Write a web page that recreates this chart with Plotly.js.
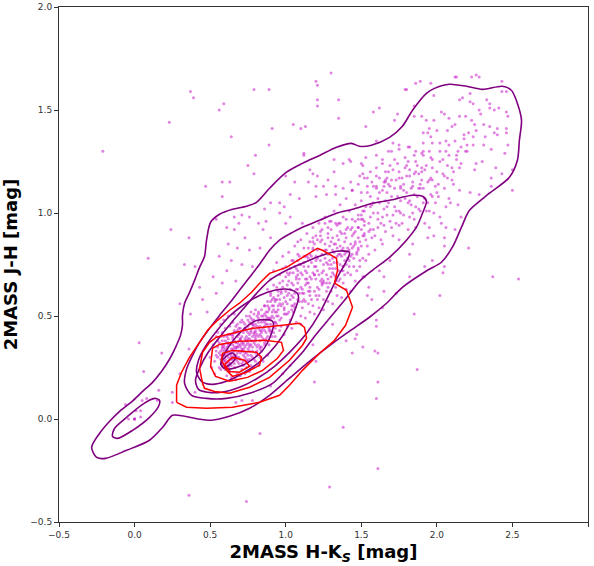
<!DOCTYPE html>
<html><head><meta charset="utf-8">
<script src="https://cdn.plot.ly/plotly-3.0.1.min.js"></script>
<style>html,body{margin:0;padding:0;background:#fff}#c{width:594px;height:566px}</style>
</head><body><div id="c"></div>
<script>
// ---------- scatter stars (H-Ks, J-H) ----------
const hkCore=[0.55,0.57,0.58,0.60,0.61,0.62,0.63,0.64,0.65,0.66,0.67,0.68,0.69,0.70,0.71,0.72,0.73,0.74,0.75,0.76,0.77,0.78,0.79,0.80,0.81,0.82,0.83,0.84,0.85,0.86,0.56,0.59,0.60,0.62,0.63,0.64,0.66,0.67,0.68,0.70,0.71,0.73,0.74,0.76,0.77,0.79,0.80,0.82,0.83,0.85,0.54,0.57,0.58,0.61,0.62,0.64,0.65,0.67,0.68,0.69,0.70,0.72,0.73,0.74,0.75,0.77,0.78,0.79,0.81,0.84,0.53,0.55,0.58,0.60,0.61,0.63,0.65,0.66,0.68,0.69,0.71,0.72,0.74,0.75,0.76,0.78,0.80,0.81,0.83,0.86,0.57,0.59,0.62,0.64,0.66,0.67,0.69,0.70,0.72,0.73,0.75,0.76,0.78,0.79,0.80,0.82,0.84,0.87,0.88,0.89,0.56,0.58,0.60,0.63,0.65,0.68,0.71,0.74,0.77,0.80,0.61,0.64,0.67,0.70,0.73,0.76,0.79,0.82,0.85,0.88,0.50,0.52,0.54,0.51,0.53,0.55,0.57,0.59,0.62,0.66];
const jhCore=[0.30,0.33,0.27,0.31,0.35,0.28,0.32,0.26,0.36,0.30,0.34,0.28,0.38,0.32,0.27,0.36,0.30,0.40,0.34,0.29,0.38,0.33,0.42,0.36,0.31,0.40,0.45,0.35,0.39,0.43,0.25,0.36,0.24,0.39,0.23,0.41,0.25,0.42,0.22,0.44,0.24,0.46,0.25,0.47,0.26,0.48,0.28,0.49,0.30,0.50,0.33,0.29,0.38,0.27,0.33,0.37,0.29,0.31,0.40,0.33,0.29,0.31,0.35,0.43,0.37,0.31,0.44,0.37,0.41,0.47,0.28,0.35,0.31,0.28,0.40,0.36,0.33,0.38,0.35,0.30,0.37,0.42,0.32,0.45,0.41,0.35,0.46,0.33,0.38,0.37,0.24,0.33,0.30,0.34,0.27,0.37,0.41,0.35,0.28,0.39,0.31,0.36,0.40,0.29,0.43,0.36,0.42,0.46,0.40,0.49,0.37,0.42,0.44,0.45,0.47,0.46,0.48,0.50,0.52,0.53,0.21,0.20,0.19,0.21,0.22,0.23,0.25,0.26,0.28,0.31,0.30,0.36,0.40,0.25,0.22,0.42,0.46,0.48,0.50,0.51];
const hkCore2=[0.56,0.58,0.59,0.61,0.62,0.64,0.65,0.66,0.68,0.69,0.70,0.71,0.72,0.74,0.75,0.76,0.78,0.79,0.80,0.82,0.83,0.84,0.86,0.87,0.88,0.90,0.91,0.92,0.55,0.57,0.60,0.63,0.66,0.69,0.72,0.75,0.78,0.81,0.84,0.87,0.90,0.93,0.59,0.62,0.65,0.68,0.71,0.74,0.77,0.80,0.83,0.86,0.89,0.92,0.95,0.57,0.61,0.64,0.67,0.70,0.73,0.76,0.79,0.82,0.85,0.88,0.91,0.94,0.60,0.63,0.66,0.69,0.72,0.75,0.78,0.81,0.84,0.87,0.90,0.93,0.58,0.62,0.65,0.68,0.71,0.74,0.77,0.80,0.83,0.86,0.89,0.92,0.96,0.54,0.58,0.63,0.67,0.70,0.73,0.77];
const jhCore2=[0.32,0.29,0.35,0.32,0.37,0.30,0.39,0.33,0.37,0.42,0.36,0.40,0.33,0.38,0.42,0.35,0.46,0.41,0.38,0.44,0.41,0.50,0.47,0.42,0.52,0.46,0.55,0.49,0.38,0.40,0.26,0.29,0.31,0.27,0.34,0.28,0.30,0.35,0.33,0.38,0.43,0.47,0.28,0.25,0.34,0.30,0.33,0.36,0.43,0.40,0.35,0.45,0.36,0.53,0.50,0.31,0.33,0.31,0.35,0.39,0.44,0.39,0.45,0.47,0.44,0.49,0.40,0.52,0.34,0.41,0.42,0.44,0.47,0.48,0.38,0.50,0.53,0.39,0.57,0.44,0.35,0.36,0.40,0.32,0.34,0.38,0.36,0.32,0.43,0.51,0.54,0.59,0.56,0.31,0.36,0.27,0.29,0.38,0.32,0.42];
const hkCore3=[0.58,0.60,0.62,0.64,0.66,0.68,0.70,0.72,0.74,0.76,0.78,0.80,0.82,0.84,0.86,0.88,0.90,0.92,0.94,0.96,0.59,0.63,0.67,0.71,0.75,0.79,0.83,0.87,0.91,0.95,0.61,0.65,0.69,0.73,0.77,0.81,0.85,0.89,0.93,0.97,0.60,0.64,0.68,0.72,0.76,0.80,0.84,0.88,0.92,0.99,0.62,0.66,0.70,0.74,0.78,0.82,0.86,0.90,0.94,0.98];
const jhCore3=[0.34,0.38,0.41,0.29,0.43,0.35,0.47,0.26,0.29,0.50,0.46,0.39,0.52,0.43,0.36,0.55,0.49,0.45,0.58,0.48,0.40,0.27,0.45,0.33,0.39,0.51,0.34,0.50,0.52,0.55,0.37,0.41,0.36,0.44,0.49,0.45,0.48,0.43,0.57,0.61,0.29,0.32,0.43,0.37,0.33,0.42,0.40,0.46,0.42,0.53,0.26,0.35,0.39,0.28,0.48,0.51,0.55,0.60,0.46,0.64];
const hkMid=[0.87,0.88,0.89,0.90,0.91,0.92,0.93,0.94,0.95,0.96,0.97,0.98,0.99,1.00,1.01,1.02,1.03,1.04,1.05,1.06,1.07,1.08,1.09,1.10,1.11,1.12,1.13,1.14,1.15,1.16,1.17,1.18,1.19,1.20,1.21,1.22,1.23,1.24,1.25,1.26,1.27,1.28,1.29,1.30,1.31,1.32,1.33,1.34,1.35,1.36,1.37,1.38,1.39,1.40,1.41,1.42,1.43,1.44,1.45,1.46,0.88,0.90,0.92,0.94,0.96,0.98,1.00,1.02,1.04,1.06,1.08,1.10,1.12,1.14,1.16,1.18,1.20,1.22,1.24,1.26,0.90,0.93,0.96,0.99,1.01,1.04,1.07,1.10,1.13,1.16,1.19,1.22,1.25,1.28,1.31,1.34,1.37,1.40,1.43,1.46,0.86,0.89,0.91,0.93,0.95,0.97,0.99,1.01,1.03,1.05,1.07,1.09,1.11,1.13,1.15,1.17,1.19,1.21,1.23,1.25,1.27,1.29,1.31,1.33,1.35,1.37,1.39,1.41,1.43,1.45,0.87,0.92,0.97,1.02,1.05,1.08,1.12,1.15,1.18,1.21,1.24,1.27,1.30,1.33,1.36,1.39,1.42,1.44,1.47,1.48];
const jhMid=[0.52,0.57,0.44,0.61,0.50,0.55,0.47,0.64,0.53,0.58,0.45,0.67,0.51,0.62,0.56,0.70,0.48,0.60,0.65,0.54,0.73,0.58,0.68,0.50,0.63,0.76,0.57,0.71,0.66,0.60,0.79,0.55,0.74,0.68,0.82,0.63,0.77,0.71,0.58,0.85,0.66,0.80,0.73,0.62,0.88,0.76,0.69,0.83,0.72,0.91,0.79,0.66,0.86,0.75,0.93,0.82,0.70,0.89,0.78,0.96,0.63,0.68,0.72,0.76,0.70,0.79,0.74,0.81,0.77,0.84,0.80,0.87,0.83,0.90,0.86,0.93,0.89,0.95,0.92,0.98,0.42,0.40,0.43,0.41,0.45,0.44,0.47,0.46,0.49,0.52,0.51,0.54,0.53,0.57,0.56,0.60,0.59,0.63,0.62,0.67,0.55,0.53,0.58,0.52,0.62,0.55,0.59,0.65,0.58,0.71,0.63,0.57,0.70,0.65,0.74,0.68,0.62,0.72,0.67,0.75,0.70,0.84,0.78,0.73,0.87,0.82,0.77,0.71,0.85,0.74,0.48,0.65,0.62,0.52,0.59,0.66,0.61,0.56,0.71,0.64,0.80,0.76,0.69,0.64,0.75,0.70,0.77,0.83,0.72,0.88];
const hkMid2=[0.94,0.96,0.98,1.00,1.02,1.04,1.06,1.08,1.10,1.12,1.14,1.16,1.18,1.20,1.22,1.24,1.26,1.28,1.30,1.32,1.34,1.36,1.38,1.40,1.42,1.44,1.46,1.48,1.50,1.52,0.95,0.99,1.03,1.07,1.11,1.15,1.19,1.23,1.27,1.31,1.35,1.39,1.43,1.47,1.51,0.97,1.01,1.05,1.09,1.13,1.17,1.21,1.25,1.29,1.33,1.37,1.41,1.45,1.49,1.00,1.04,1.08,1.12,1.16,1.20,1.24,1.28,1.32,1.36,1.40,1.44,1.48,0.93,0.98,1.03,1.08,1.13,1.18,1.23,1.28,1.33,1.38,1.43,1.01,1.06,1.11,1.16,1.21,1.26,1.31,1.36,1.41,1.46,1.51,1.09,1.14,1.19,1.24,1.29,1.34];
const jhMid2=[0.50,0.66,0.56,0.69,0.61,0.55,0.74,0.63,0.71,0.58,0.79,0.64,0.83,0.74,0.60,0.87,0.78,0.68,0.92,0.81,0.76,0.95,0.83,0.88,0.74,0.97,0.86,0.99,0.84,0.94,0.60,0.54,0.63,0.69,0.57,0.78,0.70,0.86,0.62,0.73,0.80,0.90,0.79,0.80,0.89,0.49,0.71,0.52,0.75,0.68,0.76,0.87,0.67,0.66,0.95,0.72,0.83,0.90,0.77,0.57,0.66,0.70,0.74,0.62,0.77,0.65,0.88,0.85,0.80,0.92,0.80,0.82,0.58,0.73,0.71,0.77,0.79,0.82,0.91,0.75,0.67,0.74,0.92,0.51,0.56,0.54,0.80,0.58,0.95,0.82,0.68,0.78,0.91,0.97,0.61,0.68,0.85,0.66,0.96,0.89];
const hkMid3=[1.01,1.03,1.05,1.07,1.09,1.11,1.13,1.15,1.17,1.19,1.21,1.23,1.25,1.27,1.29,1.31,1.33,1.35,1.37,1.39,1.02,1.06,1.10,1.14,1.18,1.22,1.26,1.30,1.34,1.38,1.00,1.04,1.08,1.12,1.16,1.20,1.24,1.28,1.32,1.36,1.40,1.44,1.48,1.52,1.56,1.05,1.15,1.25,1.35,1.45,1.10,1.20,1.30,1.40,1.50,1.08,1.18,1.28,1.38,1.48];
const jhMid3=[0.60,0.73,0.55,0.68,0.79,0.61,0.72,0.83,0.58,0.70,0.78,0.89,0.66,0.82,0.77,0.71,0.85,0.67,0.90,0.80,0.67,0.61,0.75,0.66,0.86,0.70,0.82,0.86,0.79,0.72,0.51,0.53,0.72,0.79,0.69,0.79,0.68,0.93,0.70,0.84,0.81,0.93,0.93,0.89,0.92,0.77,0.62,0.72,0.95,0.84,0.64,0.60,0.75,0.97,0.97,0.86,0.88,0.64,0.74,0.83];
const hkPlume=[1.47,1.48,1.49,1.50,1.51,1.52,1.53,1.54,1.55,1.56,1.57,1.58,1.59,1.60,1.61,1.62,1.63,1.64,1.65,1.66,1.67,1.68,1.69,1.70,1.71,1.72,1.73,1.74,1.75,1.76,1.77,1.78,1.79,1.80,1.81,1.82,1.83,1.84,1.85,1.86,1.87,1.88,1.89,1.90,1.91,1.92,1.93,1.94,1.96,1.98,1.46,1.49,1.52,1.55,1.58,1.61,1.64,1.67,1.70,1.73,1.76,1.79,1.82,1.85,1.88,1.50,1.53,1.56,1.59,1.62,1.65,1.68,1.71,1.74,1.77,1.80,1.83,1.86,1.89,1.92,1.28,1.30,1.32,1.34,1.36,1.38,1.40,1.42,1.44,1.46,1.48,1.50,1.52,1.54,1.56,1.58,1.60,1.62,1.64,1.66,2.00,2.02,2.05,2.08,2.10,2.12,2.14,2.18,2.20,2.23,2.26,2.29,2.31,2.33,2.38,2.10,2.05,2.00,1.98,2.15];
const jhPlume=[0.81,0.93,0.86,0.99,0.78,0.90,1.03,0.84,0.95,1.08,0.88,1.00,0.82,1.12,0.93,1.05,0.87,0.98,1.15,0.91,1.03,1.20,0.96,1.08,0.89,1.12,1.01,1.24,0.94,1.06,1.17,0.99,1.27,1.10,0.92,1.21,1.04,1.15,0.97,1.25,1.08,1.19,1.01,1.29,1.12,0.95,1.23,1.05,1.17,1.00,0.85,0.74,0.96,0.80,0.92,1.00,0.85,1.10,0.93,1.16,1.00,1.07,0.98,1.09,1.02,0.92,0.87,0.98,0.89,1.10,0.94,1.05,0.99,1.08,0.95,1.18,1.12,1.03,1.14,1.07,0.90,0.96,1.01,0.94,1.04,0.98,1.07,1.01,1.11,1.04,1.14,1.06,1.17,1.10,1.20,1.13,1.22,1.17,1.26,1.20,1.20,1.25,1.18,1.28,1.22,1.35,1.30,1.38,1.33,1.45,1.40,1.48,1.43,1.55,1.50,1.42,1.48,1.40,1.45,1.55];
const hkPlume2=[1.52,1.55,1.58,1.61,1.64,1.67,1.70,1.73,1.76,1.79,1.82,1.85,1.88,1.91,1.94,1.97,2.00,1.54,1.57,1.60,1.63,1.66,1.69,1.72,1.75,1.78,1.81,1.84,1.87,1.90,1.93,1.96,1.99,1.48,1.51,1.56,1.61,1.66,1.71,1.76,1.81,1.86,1.91,1.96,2.01,2.04,2.07,2.10,1.60,1.70,1.80,1.90,1.65,1.75,1.85,1.95,2.06,2.13,2.18,2.24];
const jhPlume2=[1.01,0.91,1.05,0.97,1.11,0.99,1.16,0.95,1.12,1.22,1.06,1.19,1.12,1.05,1.15,1.22,1.10,1.13,1.04,1.18,0.95,1.06,1.13,1.03,1.20,1.14,1.05,1.00,1.23,1.16,1.01,1.09,1.05,0.97,1.01,1.03,1.07,1.16,1.21,1.13,1.25,1.20,1.34,1.27,1.14,1.19,1.23,1.16,1.28,1.30,1.23,1.20,1.02,1.01,1.28,1.41,1.30,1.28,1.36,1.37];
const hkHalo=[1.12,1.00,1.06,1.15,1.16,1.21,1.20,1.25,1.32,1.38,1.43,1.50,1.51,1.50,1.44,1.38,1.33,1.27,1.20,1.09,1.03,0.96,0.90,0.99,0.96,0.87,1.03,1.00,1.11,0.82,0.76,0.69,0.66,0.73,0.85,0.90,0.62,0.68,0.76,0.83,0.56,0.64,0.61,0.71,0.78,0.52,0.58,0.67,0.54,0.40,0.43,0.45,0.48,1.62,1.69,1.51,1.55,1.64,1.60,1.73,1.82,1.82,1.75,1.53,1.47,1.40,1.84,1.86,1.97,2.05,1.92];
const jhHalo=[1.29,1.18,1.15,1.15,1.21,1.18,1.13,1.13,1.20,1.24,1.25,1.24,1.19,1.10,1.11,1.12,1.09,1.09,1.08,1.07,1.09,1.05,1.05,1.03,1.00,0.96,0.98,0.95,0.95,0.95,0.98,0.95,0.92,0.88,0.92,0.88,0.85,0.83,0.82,0.83,0.79,0.77,0.72,0.75,0.74,0.69,0.66,0.67,0.61,0.74,0.64,0.58,0.52,0.72,0.77,0.69,0.64,0.54,0.48,0.61,0.69,0.80,0.87,0.77,0.41,0.38,0.85,0.93,0.77,0.74,0.74];
const hkOut=[-0.21,0.23,0.37,0.39,0.56,0.59,0.64,0.79,0.89,0.91,1.05,0.89,0.80,0.75,0.79,0.47,0.58,0.63,0.58,0.24,0.36,0.09,0.33,0.54,0.66,0.71,0.86,0.61,0.03,0.18,0.06,0.16,0.25,-0.06,0.05,0.08,0.15,0.01,0.04,0,0,0,-0.04,0.04,0.36,0.30,0.40,0.25,0.36,0.74,0.83,0.30,0.37,2.37,2.54,2.04,2.02,1.85,1.87,1.61,1.60,1.38,1.61,1.29,1.19,1.44,1.51,1.59,1.61,1.46,1.60,1.54,1.57,1.65,1.52,1.65,1.31,1.18,1.20,0.67,0.71,0.78,0.90,0.98,1.03];
const jhOut=[1.30,1.44,1.59,1.56,1.50,1.53,1.37,1.60,1.60,1.41,1.43,1.33,1.28,1.23,1.19,1.13,1.15,1.15,1.08,0.92,0.88,0.78,0.75,0.97,0.98,0.99,1.02,0.93,0.37,0.32,0.23,0.14,0.13,0.07,0.09,0.10,0.09,0.04,0.04,0,0,0,0.00,0.01,0.34,0.22,0.13,0.08,-0.37,-0.40,-0.07,0.56,0.51,0.69,0.68,0.71,0.60,0.51,0.24,0.18,0.10,-0.04,-0.24,-0.33,0.18,0.32,0.35,0.33,0.32,0.39,0.45,0.60,0.58,0.62,0.69,0.69,0.46,0.36,0.28,0.08,0.09,0.09,0.16,0.22,0.26];
const hkUpper=[2.12,2.13,2.23,2.26,2.28,2.43,1.86,1.89,1.96,1.80,2.43,2.46,2.22,1.98,2.17,2.22,2.24,2.35,2.35,2.28,2.41,2.46,2.47,2.03,1.90,1.85,1.74,1.85,1.93,2.08,2.15,2.19,2.25,2.12,2.07,2.35,2.40,2.46,2.38,2.46,2.40,1.91,1.94,1.96,2.21,2.32,2.06,2.02,1.97,1.75,1.81,1.82,1.86,1.91,1.95,2.02,2.08,2.16,2.19,2.20,2.24,2.31,2.36,2.47,2.45,2.39,2.36,2.43,2.50,2.50,2.30,2.26,2.25,2.15,2.16,2.13,2.11,2.07,2.04,1.97,1.91,1.90,1.92,1.72,1.64,1.67,1.75,1.82,1.95,1.97,1.99,2.05,2.11,2.15,2.22,2.28,2.36,1.84,1.89,1.78,1.65,1.68,1.97,2.01,2.08,2.09,2.06,2.14,1.95,2.02,2.03,2.06,2.16,1.95,1.94,1.98,2.05,2.12,2.21,2.05,1.30,1.20,1.21,1.21,1.21,1.35,1.35,1.62,1.58,1.53,1.72,1.79,1.10,1.13,1.12,1.32,1.42,1.53,1.71,1.75,1.68,1.60,1.18,1.28,1.33,1.43,1.49,1.51,1.54,1.57,1.60,1.66,1.69];
const jhUpper=[1.66,1.66,1.66,1.67,1.66,1.64,1.63,1.64,1.63,1.60,1.59,1.59,1.58,1.57,1.56,1.54,1.53,1.53,1.51,1.50,1.51,1.49,1.47,1.49,1.47,1.47,1.48,1.52,1.45,1.46,1.47,1.47,1.43,1.43,1.40,1.42,1.41,1.41,1.39,1.39,1.38,1.39,1.39,1.37,1.39,1.37,1.35,1.34,1.34,1.33,1.32,1.32,1.30,1.30,1.30,1.30,1.33,1.32,1.30,1.30,1.33,1.33,1.31,1.33,1.29,1.22,1.17,1.19,1.21,1.11,1.25,1.24,1.21,1.22,1.24,1.26,1.20,1.17,1.26,1.26,1.28,1.22,1.21,1.26,1.24,1.17,1.17,1.18,1.16,1.16,1.13,1.12,1.14,1.11,1.10,1.09,1.13,1.13,1.12,1.11,1.13,1.14,1.08,1.08,1.07,1.05,1.03,1.04,1.01,0.98,0.95,0.93,0.98,0.93,0.88,0.89,0.88,0.92,0.83,0.84,1.68,1.64,1.62,1.55,1.52,1.55,1.46,1.51,1.49,1.42,1.45,1.60,1.41,1.42,1.28,1.26,1.26,1.27,1.34,1.31,1.30,1.35,1.19,1.16,1.13,1.15,1.18,1.23,1.17,1.15,1.13,1.15,1.23];

// ---------- purple KDE contours (vertices) ----------
const p1x=[-0.284,-0.251,-0.192,-0.053,0.099,0.185,0.251,0.331,0.430,0.509,0.628,0.761,0.893,1.025,1.157,1.310,1.422,1.554,1.667,1.772,1.938,2.030,2.103,2.163,2.216,2.348,2.480,2.533,2.546,2.560,2.533,2.493,2.434,2.302,2.196,2.083,1.984,1.931,1.839,1.772,1.687,1.567,1.488,1.435,1.336,1.224,1.111,1.005,0.893,0.807,0.741,0.648,0.562,0.503,0.476,0.463,0.430,0.397,0.364,0.331,0.317,0.317,0.304,0.271,0.231,0.179,0.119,0.053,-0.020,-0.099,-0.165,-0.231];
const p1y=[-0.137,-0.186,-0.191,-0.152,-0.103,-0.041,0.018,0.013,-0.001,-0.006,0.013,0.052,0.115,0.198,0.280,0.367,0.426,0.494,0.562,0.639,0.722,0.761,0.834,0.931,1.013,1.096,1.173,1.256,1.353,1.450,1.532,1.596,1.615,1.600,1.615,1.625,1.605,1.581,1.499,1.421,1.367,1.329,1.324,1.338,1.319,1.279,1.241,1.198,1.120,1.052,1.033,1.018,0.994,0.955,0.868,0.790,0.736,0.673,0.615,0.562,0.503,0.455,0.406,0.348,0.290,0.232,0.178,0.134,0.083,0.037,-0.011,-0.069];
const p2x=[0.331,0.377,0.476,0.608,0.761,0.913,1.025,1.111,1.190,1.290,1.389,1.488,1.574,1.687,1.799,1.865,1.905,1.931,1.905,1.839,1.687,1.574,1.442,1.336,1.224,1.111,1.045,0.959,0.893,0.827,0.761,0.694,0.628,0.562,0.496,0.430,0.384,0.344];
const p2y=[0.173,0.115,0.100,0.100,0.125,0.173,0.256,0.324,0.401,0.489,0.576,0.668,0.722,0.785,0.868,0.931,0.999,1.057,1.081,1.086,1.062,1.047,1.018,0.999,0.965,0.931,0.906,0.868,0.819,0.751,0.688,0.625,0.562,0.503,0.440,0.372,0.309,0.242];
const p2bx=[-0.146,-0.132,-0.053,0.053,0.132,0.165,0.159,0.099,-0.013,-0.112];
const p2by=[-0.084,-0.045,0.008,0.071,0.100,0.091,0.062,0.008,-0.055,-0.094];
const p3x=[1.422,1.336,1.224,1.111,1.005,0.893,0.807,0.728,0.642,0.562,0.483,0.430,0.403,0.423,0.483,0.575,0.694,0.813,0.926,1.038,1.138,1.224,1.290,1.356,1.402];
const p3y=[0.809,0.814,0.790,0.756,0.722,0.673,0.610,0.542,0.469,0.397,0.319,0.246,0.188,0.144,0.130,0.130,0.154,0.198,0.256,0.333,0.416,0.513,0.610,0.707,0.766];
const p4x=[1.078,1.025,0.926,0.827,0.728,0.628,0.542,0.470,0.423,0.410,0.443,0.509,0.608,0.728,0.840,0.939,1.019,1.065,1.085];
const p4y=[0.609,0.629,0.625,0.600,0.557,0.499,0.426,0.353,0.285,0.227,0.183,0.168,0.183,0.227,0.285,0.362,0.455,0.537,0.586];
const p5x=[0.906,0.807,0.694,0.608,0.575,0.582,0.628,0.741,0.847,0.906,0.919];
const p5y=[0.478,0.478,0.416,0.333,0.285,0.251,0.242,0.270,0.333,0.416,0.464];
const p6x=[0.57,0.60,0.65,0.67,0.64,0.59];
const p6y=[0.27,0.30,0.32,0.30,0.27,0.25];

// ---------- red contours (vertices) ----------
const r1x=[0.278,0.278,0.311,0.364,0.430,0.483,0.549,0.628,0.694,0.774,0.827,0.893,1.005,1.111,1.210,1.243,1.336,1.343,1.323,1.402,1.442,1.396,1.323,1.224,1.111,1.025,0.959,0.827,0.648,0.476,0.344];
const r1y=[0.081,0.164,0.227,0.300,0.372,0.431,0.479,0.528,0.562,0.615,0.659,0.707,0.736,0.785,0.829,0.819,0.780,0.722,0.659,0.625,0.542,0.455,0.382,0.319,0.236,0.164,0.115,0.081,0.057,0.052,0.057];
const r2x=[0.450,0.430,0.450,0.496,0.542,0.648,0.780,0.979,1.091,1.124,1.138,1.111,1.025,0.893,0.761,0.628,0.529,0.463];
const r2y=[0.173,0.246,0.324,0.372,0.397,0.416,0.440,0.455,0.465,0.445,0.392,0.358,0.285,0.202,0.154,0.125,0.134,0.149];
const r3x=[0.509,0.516,0.562,0.694,0.860,0.972,0.985,0.946,0.847,0.747,0.628,0.536,0.503];
const r3y=[0.300,0.343,0.362,0.377,0.382,0.372,0.333,0.295,0.236,0.202,0.183,0.207,0.256];
const r4x=[0.575,0.582,0.648,0.807,0.840,0.827,0.741,0.648,0.608];
const r4y=[0.285,0.319,0.333,0.324,0.300,0.261,0.227,0.207,0.236];
const r5x=[0.595,0.648,0.728,0.761,0.694,0.628];
const r5y=[0.265,0.299,0.285,0.256,0.227,0.231];

// ---------- axis ticks ----------
const xTicks=[-0.5,0.0,0.5,1.0,1.5,2.0,2.5,3.0];
const yTicks=[-0.5,0.0,0.5,1.0,1.5,2.0];

const close=a=>a.concat([a[0]]);
const hk=[].concat(hkCore,hkCore2,hkCore3,hkMid,hkMid2,hkMid3,hkPlume,hkPlume2,hkHalo,hkOut,hkUpper);
const jh=[].concat(jhCore,jhCore2,jhCore3,jhMid,jhMid2,jhMid3,jhPlume,jhPlume2,jhHalo,jhOut,jhUpper);

const traces=[{
  type:'scatter',mode:'markers',x:hk,y:jh,hoverinfo:'skip',
  marker:{size:3,color:'rgba(200,30,200,0.55)',line:{width:0}}
}];
const purple=[[p1x,p1y],[p2x,p2y],[p2bx,p2by],[p3x,p3y],[p4x,p4y],[p5x,p5y],[p6x,p6y]];
purple.forEach(([x,y])=>traces.push({type:'scatter',mode:'lines',x:close(x),y:close(y),hoverinfo:'skip',
  line:{color:'#800080',width:1.6,shape:'spline',smoothing:0.8}}));
const red=[[r1x,r1y],[r2x,r2y],[r3x,r3y],[r4x,r4y],[r5x,r5y]];
red.forEach(([x,y])=>traces.push({type:'scatter',mode:'lines',x:close(x),y:close(y),hoverinfo:'skip',
  line:{color:'#ff0000',width:1.5}}));

const axisCommon={showgrid:false,zeroline:false,showline:true,linecolor:'#333',linewidth:1,mirror:true,
  ticks:'outside',ticklen:4,tickwidth:1,tickcolor:'#333',tickformat:'.1f',
  tickfont:{family:'DejaVu Sans',size:9,color:'#333'}};
const layout={
  width:594,height:566,paper_bgcolor:'#fff',plot_bgcolor:'#fff',showlegend:false,
  margin:{l:59,r:6,t:7,b:44},
  xaxis:Object.assign({},axisCommon,{range:[-0.5,3.0],tickvals:xTicks,
    title:{text:'2MASS H-K<sub><i>S</i></sub> [mag]',standoff:6,font:{family:'DejaVu Sans',size:18,color:'#000',weight:'bold'}}}),
  yaxis:Object.assign({},axisCommon,{range:[-0.5,2.0],tickvals:yTicks,
    title:{text:'2MASS J-H [mag]',standoff:10,font:{family:'DejaVu Sans',size:18,color:'#000',weight:'bold'}}})
};
Plotly.newPlot('c',traces,layout,{displayModeBar:false,staticPlot:true});
</script></body></html>
